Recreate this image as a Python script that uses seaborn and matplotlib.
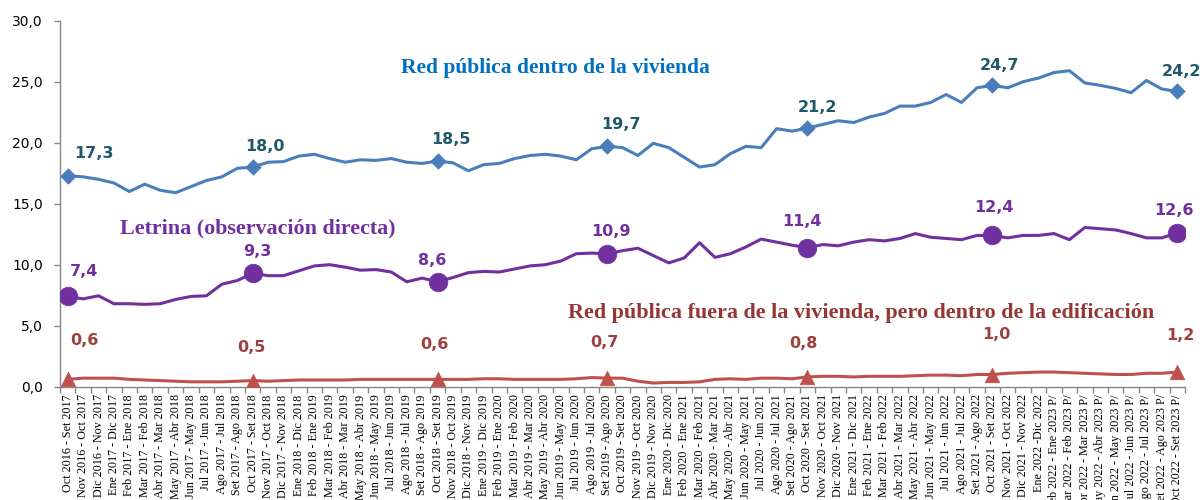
import numpy as np
import pandas as pd
import matplotlib
matplotlib.use("Agg")
import matplotlib.pyplot as plt
import seaborn as sns

# Rolling 12-month periods (x axis)
periodos = [
    "Oct 2016 - Set 2017", "Nov 2016 - Oct 2017", "Dic 2016 - Nov 2017",
    "Ene 2017 - Dic 2017", "Feb 2017 - Ene 2018", "Mar 2017 - Feb 2018",
    "Abr 2017 - Mar 2018", "May 2017 - Abr 2018", "Jun 2017 - May 2018",
    "Jul 2017 - Jun 2018", "Ago 2017 - Jul 2018", "Set 2017 - Ago 2018",
    "Oct 2017 - Set 2018", "Nov 2017 - Oct 2018", "Dic 2017 - Nov 2018",
    "Ene 2018 - Dic 2018", "Feb 2018 - Ene 2019", "Mar 2018 - Feb 2019",
    "Abr 2018 - Mar 2019", "May 2018 - Abr 2019", "Jun 2018 - May 2019",
    "Jul 2018 - Jun 2019", "Ago 2018 - Jul 2019", "Set 2018 - Ago 2019",
    "Oct 2018 - Set 2019", "Nov 2018 - Oct 2019", "Dic 2018 - Nov 2019",
    "Ene 2019 - Dic 2019", "Feb 2019 - Ene 2020", "Mar 2019 - Feb 2020",
    "Abr 2019 - Mar 2020", "May 2019 - Abr 2020", "Jun 2019 - May 2020",
    "Jul 2019 - Jun 2020", "Ago 2019 - Jul 2020", "Set 2019 - Ago 2020",
    "Oct 2019 - Set 2020", "Nov 2019 - Oct 2020", "Dic 2019 - Nov 2020",
    "Ene 2020 - Dic 2020", "Feb 2020 - Ene 2021", "Mar 2020 - Feb 2021",
    "Abr 2020 - Mar 2021", "May 2020 - Abr 2021", "Jun 2020 - May 2021",
    "Jul 2020 - Jun 2021", "Ago 2020 - Jul 2021", "Set 2020 - Ago 2021",
    "Oct 2020 - Set 2021", "Nov 2020 - Oct 2021", "Dic 2020 - Nov 2021",
    "Ene 2021 - Dic 2021", "Feb 2021 - Ene 2022", "Mar 2021 - Feb 2022",
    "Abr 2021 - Mar 2022", "May 2021 - Abr 2022", "Jun 2021 - May 2022",
    "Jul 2021 - Jun 2022", "Ago 2021 - Jul 2022", "Set 2021 - Ago 2022",
    "Oct 2021 - Set 2022", "Nov 2021 - Oct 2022", "Dic 2021 - Nov 2022",
    "Ene 2022 -Dic 2022", "Feb 2022 - Ene 2023 P/", "Mar 2022 - Feb 2023 P/",
    "Abr 2022 - Mar 2023 P/", "May 2022 - Abr 2023 P/", "Jun 2022 - May 2023 P/",
    "Jul 2022 - Jun 2023 P/", "Ago 2022 - Jul 2023 P/", "Set 2022 - Ago 2023 P/",
    "Oct 2022 - Set 2023 P/",
]

red_dentro = [
    17.3, 17.2, 17.0, 16.7, 16.0, 16.6, 16.1, 15.9, 16.4, 16.9, 17.2, 17.9,
    18.0, 18.4, 18.45, 18.9, 19.05, 18.7, 18.4, 18.6, 18.55, 18.7, 18.4, 18.3,
    18.5, 18.35, 17.7, 18.2, 18.3, 18.7, 18.95, 19.05, 18.9, 18.6, 19.5, 19.7,
    19.6, 18.95, 19.95, 19.6, 18.8, 18.0, 18.2, 19.1, 19.7, 19.6, 21.15, 20.95,
    21.2, 21.5, 21.8, 21.65, 22.1, 22.4, 23.0, 23.0, 23.3, 23.95, 23.3, 24.5,
    24.7, 24.5, 25.0, 25.3, 25.75, 25.9, 24.9, 24.7, 24.45, 24.1, 25.1, 24.4,
    24.2,
]

letrina = [
    7.4, 7.2, 7.45, 6.8, 6.8, 6.75, 6.8, 7.15, 7.4, 7.45, 8.4, 8.7,
    9.3, 9.1, 9.1, 9.5, 9.9, 10.0, 9.8, 9.55, 9.6, 9.4, 8.6, 8.9,
    8.6, 8.95, 9.35, 9.45, 9.4, 9.65, 9.9, 10.0, 10.3, 10.9, 10.95, 10.9,
    11.15, 11.35, 10.75, 10.15, 10.55, 11.8, 10.6, 10.9, 11.45, 12.1, 11.85, 11.6,
    11.4, 11.65, 11.55, 11.85, 12.05, 11.95, 12.15, 12.55, 12.25, 12.15, 12.05, 12.4,
    12.4, 12.2, 12.4, 12.4, 12.55, 12.05, 13.05, 12.95, 12.85, 12.55, 12.2, 12.2,
    12.6,
]

red_fuera = [
    0.6, 0.7, 0.7, 0.7, 0.6, 0.55, 0.5, 0.45, 0.4, 0.4, 0.4, 0.45,
    0.5, 0.45, 0.5, 0.55, 0.55, 0.55, 0.55, 0.6, 0.6, 0.6, 0.6, 0.6,
    0.6, 0.6, 0.6, 0.65, 0.65, 0.6, 0.6, 0.6, 0.6, 0.65, 0.75, 0.7,
    0.7, 0.45, 0.3, 0.35, 0.35, 0.4, 0.6, 0.65, 0.6, 0.7, 0.7, 0.65,
    0.8, 0.85, 0.85, 0.8, 0.85, 0.85, 0.85, 0.9, 0.95, 0.95, 0.9, 1.0,
    1.0, 1.1, 1.15, 1.2, 1.2, 1.15, 1.1, 1.05, 1.0, 1.0, 1.1, 1.1,
    1.2,
]

# Periods that carry a marker and a value label
idx_etiquetas = [0, 12, 24, 35, 48, 60, 72]

nombres = {
    "red_dentro": "Red pública dentro de la vivienda",
    "letrina": "Letrina (observación directa)",
    "red_fuera": "Red pública fuera de la vivienda, pero dentro de la edificación",
}

df = pd.DataFrame({
    "pos": np.arange(len(periodos)),
    "periodo": periodos,
    "red_dentro": red_dentro,
    "letrina": letrina,
    "red_fuera": red_fuera,
})

sns.set_theme(style="white")
plt.rcParams["font.family"] = ["DejaVu Sans"]

fig = plt.figure(figsize=(12, 5), dpi=100)
ax = fig.add_axes([0.05, 0.2266, 0.9375, 0.732])

estilos = {
    "red_dentro": dict(line="#4A7EBB", marker="D", s=62, text="#215968",
                       offsets=[(26, 22), (12, 21), (13, 21), (14, 22), (10, 21), (7, 20), (4, 20)]),
    "letrina": dict(line="#7030A0", marker="o", s=180, text="#7030A0",
                    offsets=[(16, 25), (5, 22), (-5, 21), (4, 22), (-5, 26), (2, 28), (-3, 22)]),
    "red_fuera": dict(line="#C0504D", marker="^", s=110, text="#A0403E",
                      offsets=[(17, 39), (-1, 33), (-3, 35), (-3, 36), (-4, 33), (4, 40), (3, 37)]),
}

for col, st in estilos.items():
    sns.lineplot(data=df, x="pos", y=col, color=st["line"], linewidth=2.2,
                 ax=ax, legend=False)
    sub = df.iloc[idx_etiquetas]
    sns.scatterplot(data=sub, x="pos", y=col, marker=st["marker"], s=st["s"],
                    color=st["line"], edgecolor=st["line"], linewidth=0.5,
                    ax=ax, legend=False, zorder=4)
    for (i, v), (dx, dy) in zip(zip(sub["pos"], sub[col]), st["offsets"]):
        ax.annotate(f"{v:.1f}".replace(".", ","), xy=(i, v), xytext=(dx, dy),
                    textcoords="offset pixels", ha="center", va="center",
                    fontsize=11.5, fontweight="bold", color=st["text"],
                    family=["DejaVu Sans"], zorder=5)

# Series names written next to their lines
titulo_kw = dict(ha="center", va="center", fontweight="bold",
                 family=["Liberation Serif"])
ax.text(31.67, 26.1, nombres["red_dentro"], color="#0070C0", fontsize=15.5, **titulo_kw)
ax.text(12.33, 13.0, nombres["letrina"], color="#7030A0", fontsize=15.8, **titulo_kw)
ax.text(51.46, 6.07, nombres["red_fuera"], color="#953735", fontsize=15.9, **titulo_kw)

# Axes
ax.set_xlim(-0.5, len(periodos) - 0.5)
ax.set_ylim(0, 30)
ax.set_xlabel("")
ax.set_ylabel("")

yticks = np.arange(0, 31, 5)
ax.set_yticks(yticks)
ax.set_yticklabels([f"{t:.1f}".replace(".", ",") for t in yticks],
                   fontsize=10, color="black")
ax.tick_params(axis="y", which="major", left=True, length=4.3, width=1,
               color="#868686", pad=8)

ax.set_xticks(df["pos"])
ax.set_xticklabels(periodos, rotation=90, fontsize=8.7,
                   family=["Liberation Serif"], color="black", va="top")
ax.set_xticks(np.arange(-0.5, len(periodos), 1), minor=True)
ax.tick_params(axis="x", which="major", bottom=True, length=0, pad=5.5)
ax.tick_params(axis="x", which="minor", bottom=True, length=4, width=1,
               color="#868686")

for side in ["top", "right"]:
    ax.spines[side].set_visible(False)
for side in ["left", "bottom"]:
    ax.spines[side].set_color("#868686")
    ax.spines[side].set_linewidth(1)
ax.grid(False)

fig.savefig("out.png", dpi=100)
